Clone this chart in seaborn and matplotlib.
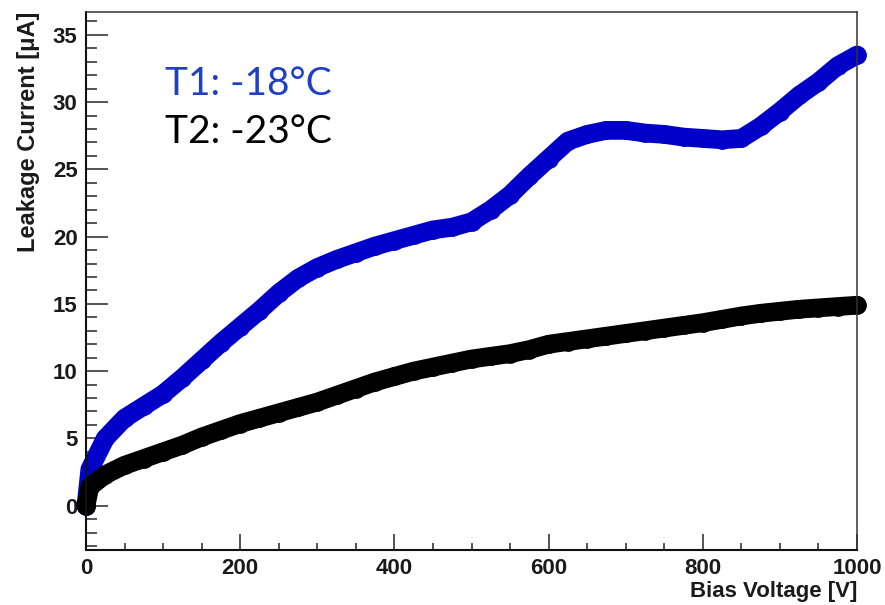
import numpy as np
import pandas as pd
import matplotlib
matplotlib.use("Agg")
import matplotlib.pyplot as plt
from matplotlib.ticker import MultipleLocator
import seaborn as sns

# ---- data ----
voltage = [0, 5, 25, 50, 75, 100, 125, 150, 175, 200, 225, 250, 275, 300, 325, 350,
           375, 400, 425, 450, 475, 500, 525, 550, 575, 600, 625, 650, 675, 700,
           725, 750, 775, 800, 825, 850, 875, 900, 925, 950, 975, 1000]
current_t1 = [0.0, 2.7, 5.0, 6.5, 7.4, 8.3, 9.5, 10.8, 12.1, 13.3, 14.5, 15.8, 16.9,
              17.7, 18.3, 18.8, 19.3, 19.7, 20.1, 20.5, 20.7, 21.1, 22.0, 23.1, 24.5,
              25.8, 27.1, 27.6, 27.9, 27.9, 27.7, 27.6, 27.4, 27.3, 27.2, 27.3, 28.2,
              29.3, 30.5, 31.5, 32.7, 33.5]
current_t2 = [0.0, 1.4, 2.3, 3.0, 3.5, 4.0, 4.5, 5.1, 5.6, 6.1, 6.5, 6.9, 7.3, 7.7,
              8.2, 8.7, 9.2, 9.6, 10.0, 10.3, 10.6, 10.9, 11.1, 11.3, 11.6, 12.0,
              12.2, 12.4, 12.6, 12.8, 13.0, 13.2, 13.4, 13.6, 13.85, 14.1, 14.3,
              14.45, 14.6, 14.7, 14.8, 14.9]
series_labels = ["T1: -18°C", "T2: -23°C"]
x_label = "Bias Voltage [V]"
y_label = "Leakage Current [\u03bcA]"

df = pd.DataFrame({
    "V": voltage * 2,
    "I": current_t1 + current_t2,
    "series": [series_labels[0]] * len(voltage) + [series_labels[1]] * len(voltage),
})

sns.set_style("ticks")
plt.rcParams["font.family"] = ["Liberation Sans", "DejaVu Sans"]

fig = plt.figure(figsize=(8.85, 6.05), dpi=100)
ax = fig.add_axes([86 / 885, 1 - 550 / 605, (857 - 86) / 885, (550 - 12) / 605])

blue = "#0000c8"
palette = {series_labels[0]: blue, series_labels[1]: "#000000"}
sns.lineplot(data=df, x="V", y="I", hue="series", palette=palette, ax=ax,
             linewidth=13.5, marker="o", markersize=13.5, markeredgewidth=0,
             legend=False, sort=False, solid_capstyle="round",
             solid_joinstyle="round", clip_on=False)

ax.set_xlim(0, 1000)
ax.set_ylim(-3.3, 36.7)

ax.xaxis.set_major_locator(MultipleLocator(200))
ax.xaxis.set_minor_locator(MultipleLocator(50))
ax.yaxis.set_major_locator(MultipleLocator(5))
ax.yaxis.set_minor_locator(MultipleLocator(1))

ax.tick_params(axis="x", which="major", direction="in", length=11.5, width=1.1,
               pad=6, labelsize=16)
ax.tick_params(axis="x", which="minor", direction="in", length=5, width=1.1)
ax.tick_params(axis="y", which="major", direction="in", length=16, width=1.1,
               pad=6, labelsize=16)
ax.tick_params(axis="y", which="minor", direction="in", length=8, width=1.1)
for lab in ax.get_xticklabels() + ax.get_yticklabels():
    lab.set_fontweight("bold")
    lab.set_color("#1a1a1a")

for side in ["left", "bottom"]:
    ax.spines[side].set_linewidth(1.5)
    ax.spines[side].set_color("#111111")
for side in ["top", "right"]:
    ax.spines[side].set_visible(True)
    ax.spines[side].set_linewidth(1.1)
    ax.spines[side].set_color("#333333")

ax.set_xlabel(x_label, loc="right", fontsize=16, fontweight="bold",
              color="#1a1a1a", labelpad=1.5)
ax.set_ylabel(y_label, loc="top", fontsize=17, fontweight="bold",
              color="#1a1a1a", labelpad=9)

ax.text(0.1025, 0.8457, series_labels[0], transform=ax.transAxes, va="baseline",
        ha="left", fontsize=28, color="#1e3fc8", family=["Lato", "DejaVu Sans"])
ax.text(0.1025, 0.7565, series_labels[1], transform=ax.transAxes, va="baseline",
        ha="left", fontsize=28, color="#000000", family=["Lato", "DejaVu Sans"])

fig.savefig("out.png", dpi=100)
